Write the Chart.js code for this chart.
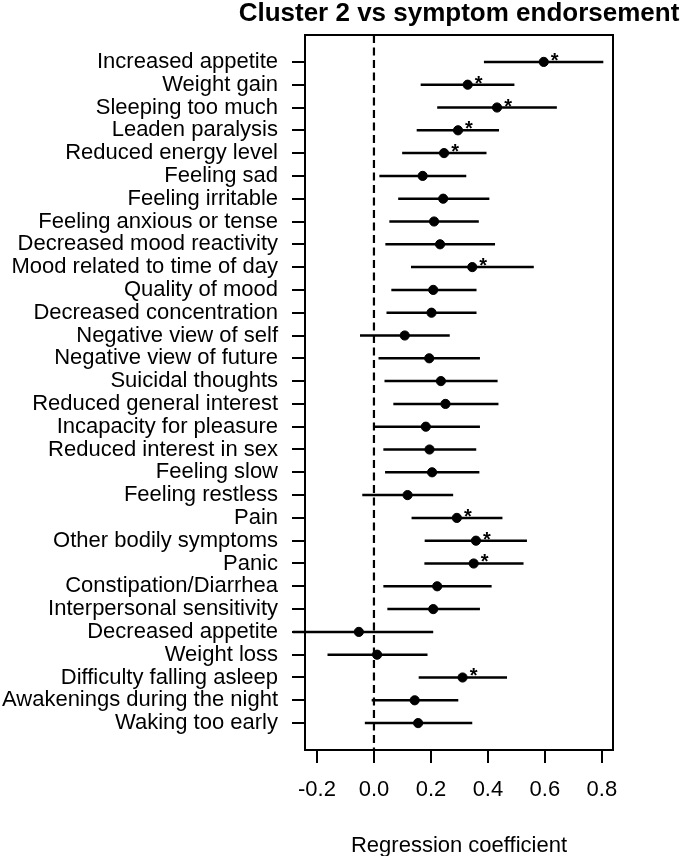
<!DOCTYPE html>
<html>
<head>
<meta charset="utf-8">
<script src="https://cdn.jsdelivr.net/npm/chart.js@4.4.1/dist/chart.umd.min.js"></script>
<style>
  body { margin: 0; background: #fff; }
  #wrap { width: 685px; height: 856px; position: relative; }
</style>
</head>
<body>
<div id="wrap"><canvas id="forest"></canvas></div>
<script>
// symptom rows, top to bottom
const symptoms = [
    'Increased appetite', 'Weight gain', 'Sleeping too much', 'Leaden paralysis',
    'Reduced energy level', 'Feeling sad', 'Feeling irritable', 'Feeling anxious or tense',
    'Decreased mood reactivity', 'Mood related to time of day', 'Quality of mood',
    'Decreased concentration', 'Negative view of self', 'Negative view of future',
    'Suicidal thoughts', 'Reduced general interest', 'Incapacity for pleasure',
    'Reduced interest in sex', 'Feeling slow', 'Feeling restless', 'Pain',
    'Other bodily symptoms', 'Panic', 'Constipation/Diarrhea', 'Interpersonal sensitivity',
    'Decreased appetite', 'Weight loss', 'Difficulty falling asleep',
    'Awakenings during the night', 'Waking too early'
];
const estimate = [0.596, 0.329, 0.432, 0.295, 0.246, 0.171, 0.243, 0.211, 0.232, 0.345,
    0.208, 0.202, 0.108, 0.194, 0.235, 0.251, 0.182, 0.195, 0.204, 0.118,
    0.291, 0.358, 0.350, 0.222, 0.208, -0.053, 0.011, 0.311, 0.143, 0.155];
const lower = [0.386, 0.164, 0.222, 0.150, 0.099, 0.019, 0.085, 0.054, 0.040, 0.130,
    0.061, 0.044, -0.049, 0.016, 0.037, 0.068, -0.002, 0.033, 0.039, -0.041,
    0.132, 0.178, 0.177, 0.033, 0.047, -0.285, -0.163, 0.157, -0.008, -0.032];
const upper = [0.805, 0.493, 0.642, 0.439, 0.395, 0.324, 0.405, 0.368, 0.425, 0.561,
    0.360, 0.360, 0.266, 0.372, 0.434, 0.437, 0.372, 0.359, 0.370, 0.278,
    0.451, 0.537, 0.525, 0.413, 0.372, 0.208, 0.188, 0.467, 0.296, 0.345];
const significant = [true, true, true, true, true, false, false, false, false, true,
    false, false, false, false, false, false, false, false, false, false,
    true, true, true, false, false, false, false, true, false, false];
const xTicks = [-0.2, 0.0, 0.2, 0.4, 0.6, 0.8];

const FONT = "'Liberation Sans', Arial, Helvetica, sans-serif";
const yPad = 1.18;

// one line dataset per interval
const intervals = symptoms.map((s, i) => ({
    type: 'line',
    data: [{ x: lower[i], y: i }, { x: upper[i], y: i }],
    borderColor: '#000',
    borderWidth: 2.5,
    pointRadius: 0,
    clip: false,
    order: 2
}));

// box, title and significance stars
const extras = {
    id: 'extras',
    afterDatasetsDraw(chart) {
        const ctx = chart.ctx;
        const a = chart.chartArea;
        const xs = chart.scales.x, ys = chart.scales.y;
        ctx.save();
        ctx.strokeStyle = '#000';
        ctx.lineWidth = 2;
        ctx.strokeRect(a.left, a.top, a.right - a.left, a.bottom - a.top);

        ctx.fillStyle = '#000';
        ctx.font = 'bold 26px ' + FONT;
        ctx.textAlign = 'center';
        ctx.textBaseline = 'alphabetic';
        ctx.fillText('Cluster 2 vs symptom endorsement', (a.left + a.right) / 2, 21);

        ctx.font = 'bold 20px ' + FONT;
        significant.forEach((sig, i) => {
            if (!sig) return;
            const px = xs.getPixelForValue(estimate[i]);
            const py = ys.getPixelForValue(i);
            ctx.fillText('*', px + 11, py + 5);
        });
        ctx.restore();
    }
};

new Chart(document.getElementById('forest'), {
    type: 'scatter',
    data: {
        datasets: [
            {
                type: 'line',
                data: [{ x: 0, y: -yPad }, { x: 0, y: symptoms.length - 1 + yPad }],
                borderColor: '#000',
                borderWidth: 2.2,
                borderDash: [8, 4.5],
                pointRadius: 0,
                order: 3
            },
            ...intervals,
            {
                data: estimate.map((v, i) => ({ x: v, y: i })),
                backgroundColor: '#000',
                borderColor: '#000',
                pointRadius: 4.6,
                order: 1
            }
        ]
    },
    options: {
        responsive: true,
        maintainAspectRatio: false,
        animation: false,
        layout: { padding: { top: 35, right: 72, left: 0, bottom: 0 } },
        plugins: { legend: { display: false }, tooltip: { enabled: false } },
        scales: {
            x: {
                type: 'linear',
                min: -0.242,
                max: 0.839,
                afterBuildTicks: s => { s.ticks = xTicks.map(v => ({ value: v })); },
                afterFit: s => { s.height = 106; },
                border: { display: false },
                grid: { drawOnChartArea: false, drawTicks: true, tickLength: 13, color: '#000', lineWidth: 2 },
                ticks: {
                    color: '#000',
                    font: { family: FONT, size: 22 },
                    padding: 14,
                    maxRotation: 0,
                    callback: v => v.toFixed(1)
                },
                title: {
                    display: true,
                    text: 'Regression coefficient',
                    color: '#000',
                    font: { family: FONT, size: 22 },
                    padding: { top: 0, bottom: -3 }
                }
            },
            y: {
                type: 'linear',
                reverse: true,
                min: -yPad,
                max: symptoms.length - 1 + yPad,
                afterBuildTicks: s => { s.ticks = symptoms.map((_, i) => ({ value: i })); },
                afterFit: s => { s.width = 305; },
                border: { display: false },
                grid: { drawOnChartArea: false, drawTicks: true, tickLength: 13, color: '#000', lineWidth: 2 },
                ticks: {
                    autoSkip: false,
                    color: '#000',
                    font: { family: FONT, size: 22 },
                    padding: 14,
                    callback: v => symptoms[v]
                }
            }
        }
    },
    plugins: [extras]
});
</script>
</body>
</html>
